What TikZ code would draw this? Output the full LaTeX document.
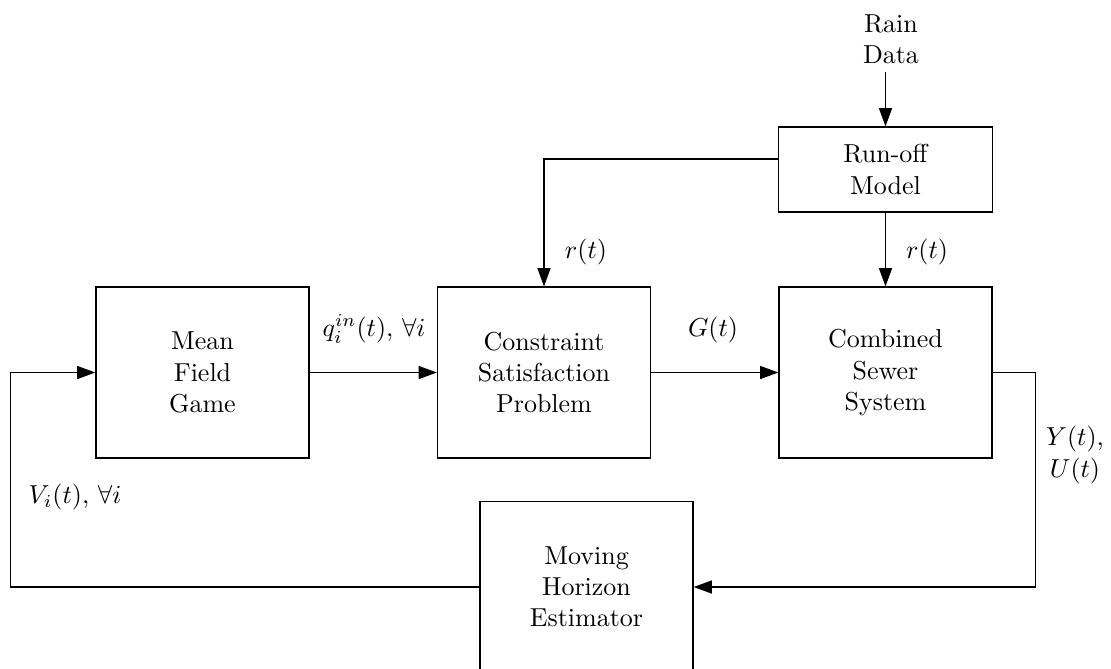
\documentclass[tikz,border=0pt]{standalone}
\usetikzlibrary{arrows.meta}
\begin{document}
\begin{tikzpicture}[x=0.385pt,y=-0.385pt,line width=0.5pt,
  block/.style={draw,minimum width=82pt,minimum height=65.8pt,align=center,inner sep=0pt},
  flatblock/.style={draw,minimum width=82.4pt,minimum height=32.7pt,align=center,inner sep=0pt},
  arr/.style={-{Triangle[length=7pt,width=5pt]}},
  lbl/.style={align=center,inner sep=0pt}]
\clip (0,0) rectangle (1111,668);

% blocks
\node[block] (mfg) at (202.5,372.5) {Mean\\Field\\Game};
\node[block] (csp) at (544,372.5) {Constraint\\Satisfaction\\Problem};
\node[block] (css) at (885.5,372.5) {Combined\\Sewer\\System};
\node[flatblock] (rom) at (885.5,169.5) {Run-off\\Model};
\node[block] (mhe) at (586.5,587) {Moving\\Horizon\\Estimator};

% input and signal labels
\node[lbl,inner sep=3pt] (rain) at (891,39) {Rain\\Data};
\node[lbl] (lq) at (374,329) {$q_i^{in}(t)$, $\forall i$};
\node[lbl] (lg) at (713,330) {$G(t)$};
\node[lbl] (lr1) at (586,252) {$r(t)$};
\node[lbl] (lr2) at (927,252) {$r(t)$};
\node[lbl] (lyu) at (1075,455) {$Y(t)$,\\$U(t)$};
\node[lbl] (lv) at (75,497) {$V_i(t)$, $\forall i$};

% connectors
\draw[arr] (rain.south -| rom.north) -- (rom.north);
\draw[arr] ([yshift=4pt]rom.west) -| (csp.north);
\draw[arr] (rom.south) -- (css.north);
\draw[arr] (mfg.east) -- (csp.west);
\draw[arr] (csp.east) -- (css.west);
\draw[arr] (css.east) -- ++(43,0) |- (mhe.east);
\draw[arr] (mhe.west) -- ++(-469,0) |- (mfg.west);
\end{tikzpicture}
\end{document}
